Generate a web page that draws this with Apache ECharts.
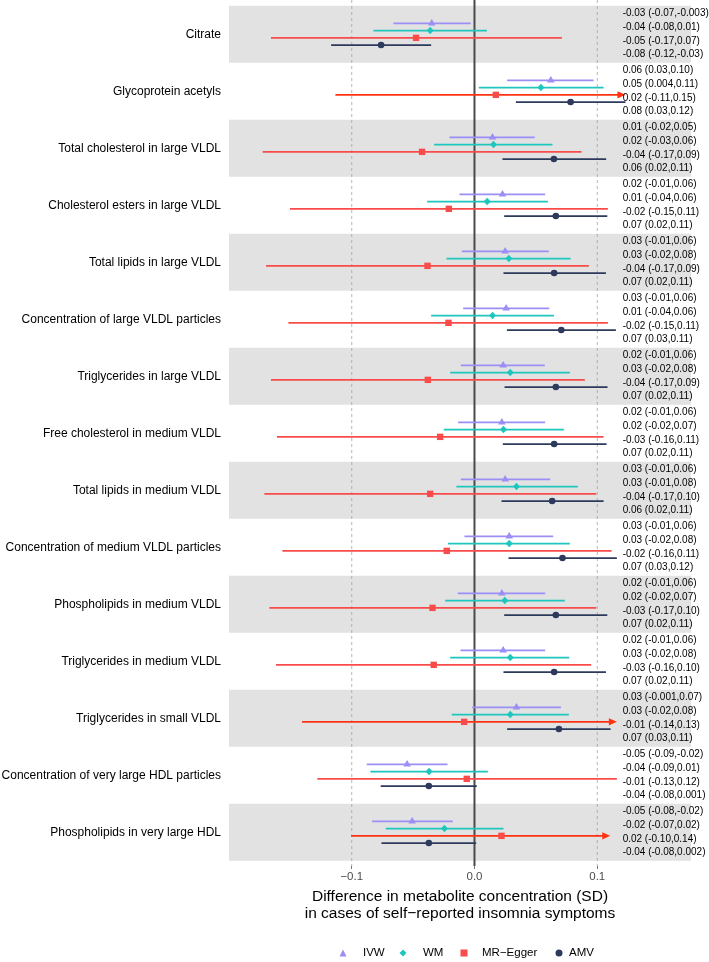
<!DOCTYPE html>
<html>
<head>
<meta charset="utf-8">
<script src="https://cdn.jsdelivr.net/npm/echarts@6/dist/echarts.min.js"></script>
<style>
html, body { margin: 0; padding: 0; background: #ffffff; }
#chart { width: 709px; height: 962px; }
</style>
</head>
<body>
<div id="chart"></div>
<script>
// ---------------- DATA ----------------
const categories = [
  'Citrate',
  'Glycoprotein acetyls',
  'Total cholesterol in large VLDL',
  'Cholesterol esters in large VLDL',
  'Total lipids in large VLDL',
  'Concentration of large VLDL particles',
  'Triglycerides in large VLDL',
  'Free cholesterol in medium VLDL',
  'Total lipids in medium VLDL',
  'Concentration of medium VLDL particles',
  'Phospholipids in medium VLDL',
  'Triglycerides in medium VLDL',
  'Triglycerides in small VLDL',
  'Concentration of very large HDL particles',
  'Phospholipids in very large HDL'
];

const methodNames = ['IVW', 'WM', 'MR\u2212Egger', 'AMV'];

const ivwEst = [-0.0348, 0.0622, 0.0147, 0.0228, 0.0250, 0.0258, 0.0234, 0.0223, 0.0250, 0.0283, 0.0223, 0.0234, 0.0342, -0.0549, -0.0508];
const ivwLo  = [-0.0660, 0.0266, -0.0204, -0.0122, -0.0103, -0.0092, -0.0111, -0.0133, -0.0111, -0.0082, -0.0136, -0.0114, -0.0019, -0.0878, -0.0834];
const ivwHi  = [-0.0030, 0.0970, 0.0492, 0.0576, 0.0606, 0.0609, 0.0573, 0.0576, 0.0617, 0.0641, 0.0576, 0.0576, 0.0704, -0.0220, -0.0177];

const wmEst = [-0.0361, 0.0541, 0.0155, 0.0103, 0.0280, 0.0147, 0.0291, 0.0236, 0.0342, 0.0283, 0.0247, 0.0291, 0.0291, -0.0370, -0.0245];
const wmLo  = [-0.0823, 0.0035, -0.0329, -0.0386, -0.0228, -0.0353, -0.0198, -0.0250, -0.0147, -0.0215, -0.0239, -0.0198, -0.0185, -0.0848, -0.0723];
const wmHi  = [0.0101, 0.1052, 0.0636, 0.0598, 0.0783, 0.0647, 0.0777, 0.0728, 0.0842, 0.0777, 0.0736, 0.0772, 0.0769, 0.0109, 0.0236];

const eggerEst = [-0.0476, 0.0174, -0.0427, -0.0209, -0.0383, -0.0212, -0.0380, -0.0280, -0.0361, -0.0226, -0.0342, -0.0332, -0.0084, -0.0063, 0.0220];
const eggerLo  = [-0.1658, -0.1133, -0.1726, -0.1503, -0.1698, -0.1516, -0.1658, -0.1609, -0.1712, -0.1565, -0.1671, -0.1617, -0.1405, -0.1280, -0.1005];
const eggerHi  = [0.0712, 0.1230, 0.0872, 0.1087, 0.0932, 0.1087, 0.0899, 0.1052, 0.0992, 0.1117, 0.0992, 0.0951, 0.1160, 0.1160, 0.1106];
const eggerTruncated = [0, 1, 0, 0, 0, 0, 0, 0, 0, 0, 0, 0, 1, 0, 1];

const amvEst = [-0.0761, 0.0783, 0.0647, 0.0663, 0.0649, 0.0707, 0.0663, 0.0649, 0.0633, 0.0717, 0.0663, 0.0649, 0.0688, -0.0372, -0.0372];
const amvLo  = [-0.1168, 0.0337, 0.0228, 0.0242, 0.0236, 0.0264, 0.0245, 0.0231, 0.0220, 0.0277, 0.0242, 0.0236, 0.0266, -0.0764, -0.0758];
const amvHi  = [-0.0353, 0.1230, 0.1073, 0.1082, 0.1071, 0.1152, 0.1084, 0.1076, 0.1052, 0.1160, 0.1082, 0.1071, 0.1109, 0.0019, 0.0014];

const ivwLabels = ['-0.03 (-0.07,-0.003)', '0.06 (0.03,0.10)', '0.01 (-0.02,0.05)', '0.02 (-0.01,0.06)', '0.03 (-0.01,0.06)', '0.03 (-0.01,0.06)', '0.02 (-0.01,0.06)', '0.02 (-0.01,0.06)', '0.03 (-0.01,0.06)', '0.03 (-0.01,0.06)', '0.02 (-0.01,0.06)', '0.02 (-0.01,0.06)', '0.03 (-0.001,0.07)', '-0.05 (-0.09,-0.02)', '-0.05 (-0.08,-0.02)'];
const wmLabels = ['-0.04 (-0.08,0.01)', '0.05 (0.004,0.11)', '0.02 (-0.03,0.06)', '0.01 (-0.04,0.06)', '0.03 (-0.02,0.08)', '0.01 (-0.04,0.06)', '0.03 (-0.02,0.08)', '0.02 (-0.02,0.07)', '0.03 (-0.01,0.08)', '0.03 (-0.02,0.08)', '0.02 (-0.02,0.07)', '0.03 (-0.02,0.08)', '0.03 (-0.02,0.08)', '-0.04 (-0.09,0.01)', '-0.02 (-0.07,0.02)'];
const eggerLabels = ['-0.05 (-0.17,0.07)', '0.02 (-0.11,0.15)', '-0.04 (-0.17,0.09)', '-0.02 (-0.15,0.11)', '-0.04 (-0.17,0.09)', '-0.02 (-0.15,0.11)', '-0.04 (-0.17,0.09)', '-0.03 (-0.16,0.11)', '-0.04 (-0.17,0.10)', '-0.02 (-0.16,0.11)', '-0.03 (-0.17,0.10)', '-0.03 (-0.16,0.10)', '-0.01 (-0.14,0.13)', '-0.01 (-0.13,0.12)', '0.02 (-0.10,0.14)'];
const amvLabels = ['-0.08 (-0.12,-0.03)', '0.08 (0.03,0.12)', '0.06 (0.02,0.11)', '0.07 (0.02,0.11)', '0.07 (0.02,0.11)', '0.07 (0.03,0.11)', '0.07 (0.02,0.11)', '0.07 (0.02,0.11)', '0.06 (0.02,0.11)', '0.07 (0.03,0.12)', '0.07 (0.02,0.11)', '0.07 (0.02,0.11)', '0.07 (0.03,0.11)', '-0.04 (-0.08,0.001)', '-0.04 (-0.08,0.002)'];

const tickValues = [-0.1, 0, 0.1];
const tickLabels = ['\u22120.1', '0.0', '0.1'];
const axisTitle = 'Difference in metabolite concentration (SD)\nin cases of self\u2212reported insomnia symptoms';

// ---------------- STYLE / LAYOUT ----------------
const FONT = '"Liberation Sans", Arial, Helvetica, sans-serif';
const COLORS = ['#9b8ef5', '#1fc6bd', '#fa4b4b', '#2e3a5c'];
const ARROW_COLOR = '#ff3311';
const SHAPES = ['triangle', 'diamond', 'square', 'circle'];
const LEGEND_ICONS = ['triangle', 'diamond', 'rect', 'circle'];
const LEGEND_ICON_CX = [343, 403, 464, 559];      // legend icon centres (px)
const LEGEND_TEXT_X = [363, 423, 482, 569];       // legend text starts (px)
const MARK_OFF = [-0.19, -0.064, 0.064, 0.19];   // fraction of band height
const TEXT_OFF = [-0.36, -0.12, 0.12, 0.36];
const LABEL_X = 0.1207;                            // x position of the text column (axis units)
const X_MIN = -0.2, X_MAX = 0.1764;
const PAD_TOP = 5.7, PAD_BOTTOM = 5.3;

const methods = [
  { est: ivwEst, lo: ivwLo, hi: ivwHi, trunc: null, labels: ivwLabels },
  { est: wmEst, lo: wmLo, hi: wmHi, trunc: null, labels: wmLabels },
  { est: eggerEst, lo: eggerLo, hi: eggerHi, trunc: eggerTruncated, labels: eggerLabels },
  { est: amvEst, lo: amvLo, hi: amvHi, trunc: null, labels: amvLabels }
];

function markerShape(shape, x, y, color) {
  if (shape === 'triangle') {
    return { type: 'polygon', shape: { points: [[x, y - 4.4], [x - 3.8, y + 2.2], [x + 3.8, y + 2.2]] }, style: { fill: color } };
  }
  if (shape === 'diamond') {
    return { type: 'polygon', shape: { points: [[x, y - 3.8], [x + 3.5, y], [x, y + 3.8], [x - 3.5, y]] }, style: { fill: color } };
  }
  if (shape === 'square') {
    return { type: 'rect', shape: { x: x - 3.2, y: y - 3.2, width: 6.4, height: 6.4 }, style: { fill: color } };
  }
  return { type: 'circle', shape: { cx: x, cy: y, r: 3.3 }, style: { fill: color } };
}

function methodSeries(m) {
  const M = methods[m];
  const color = COLORS[m];
  return {
    type: 'custom',
    name: methodNames[m],
    z: 3,
    clip: false,
    silent: true,
    itemStyle: { color: color },
    encode: { x: [1, 2, 3], y: 0 },
    data: M.est.map((e, i) => [i, e, M.lo[i], M.hi[i], M.trunc ? M.trunc[i] : 0]),
    renderItem: function (params, api) {
      const i = api.value(0);
      const band = api.size([0, 1])[1];
      const yc = api.coord([0, i])[1];
      const y = yc + MARK_OFF[m] * band;
      const xe = api.coord([api.value(1), i])[0];
      const xl = api.coord([api.value(2), i])[0];
      const xh = api.coord([api.value(3), i])[0];
      const trunc = api.value(4) === 1;
      const children = [];
      if (trunc) {
        children.push({ type: 'line', shape: { x1: xl, y1: y, x2: xh - 6, y2: y }, style: { stroke: ARROW_COLOR, lineWidth: 1.8 } });
        children.push({ type: 'polygon', shape: { points: [[xh, y], [xh - 8, y - 3.6], [xh - 8, y + 3.6]] }, style: { fill: ARROW_COLOR } });
      } else {
        children.push({ type: 'line', shape: { x1: xl, y1: y, x2: xh, y2: y }, style: { stroke: color, lineWidth: 1.8 } });
      }
      children.push(markerShape(SHAPES[m], xe, y, color));
      const tx = api.coord([LABEL_X, i])[0];
      children.push({
        type: 'text', x: tx, y: yc + TEXT_OFF[m] * band,
        style: { text: M.labels[params.dataIndex], fontSize: 10, fontFamily: FONT, fill: '#000000', align: 'left', verticalAlign: 'middle' }
      });
      return { type: 'group', children: children };
    }
  };
}

const bandSeries = {
  type: 'custom',
  name: 'bands',
  z: 0,
  silent: true,
  clip: false,
  encode: { x: 1, y: 0 },
  data: categories.map((c, i) => [i, 0]).filter(d => d[0] % 2 === 0),
  renderItem: function (params, api) {
    const i = api.value(0);
    const band = api.size([0, 1])[1];
    const yc = api.coord([0, i])[1];
    const cs = params.coordSys;
    return { type: 'rect', shape: { x: cs.x, y: yc - band / 2, width: cs.width, height: band }, style: { fill: '#e2e2e2' } };
  }
};

const refLineSeries = {
  type: 'custom',
  name: 'reflines',
  z: 1,
  silent: true,
  clip: false,
  encode: { x: 0, y: 1 },
  data: tickValues.map(v => [v, 0]),
  renderItem: function (params, api) {
    const v = api.value(0);
    const x = api.coord([v, 0])[0];
    const cs = params.coordSys;
    const isZero = Math.abs(v) < 1e-9;
    return {
      type: 'line',
      shape: { x1: x, y1: cs.y - PAD_TOP, x2: x, y2: cs.y + cs.height + PAD_BOTTOM },
      style: isZero ? { stroke: '#4a4a4a', lineWidth: 2 } : { stroke: '#a3a3a3', lineWidth: 0.8, lineDash: [3, 3] }
    };
  }
};

const legends = methodNames.map((n, k) => ({
  data: [{ name: n, icon: LEGEND_ICONS[k] }],
  left: LEGEND_ICON_CX[k] - 3.5,
  top: 947,
  padding: 0,
  orient: 'horizontal',
  itemWidth: 7,
  itemHeight: 7,
  itemGap: 0,
  selectedMode: false,
  textStyle: {
    fontSize: 11.5, color: '#000000', fontFamily: FONT,
    padding: [0, 0, 0, Math.max(0, LEGEND_TEXT_X[k] - (LEGEND_ICON_CX[k] + 3.5) - 5)]
  }
}));

const chart = echarts.init(document.getElementById('chart'), null, { renderer: 'canvas' });

chart.setOption({
  animation: false,
  backgroundColor: '#ffffff',
  textStyle: { fontFamily: FONT },
  grid: { left: 229, top: PAD_TOP, width: 462, height: 855, containLabel: false, outerBoundsMode: 'none' },
  xAxis: {
    type: 'value',
    min: X_MIN,
    max: X_MAX,
    offset: PAD_BOTTOM,
    axisLine: { show: false },
    splitLine: { show: false },
    axisTick: { show: true, length: 3, customValues: tickValues, lineStyle: { color: '#555555', width: 0.8 } },
    axisLabel: {
      customValues: tickValues,
      margin: 5,
      fontSize: 11.5,
      color: '#4d4d4d',
      fontFamily: FONT,
      formatter: function (v) {
        for (let k = 0; k < tickValues.length; k++) {
          if (Math.abs(v - tickValues[k]) < 1e-9) return tickLabels[k];
        }
        return '';
      }
    },
    name: axisTitle,
    nameLocation: 'middle',
    nameGap: 20.5,
    nameTextStyle: { fontSize: 15.5, lineHeight: 17.5, color: '#000000', fontFamily: FONT, align: 'center' }
  },
  yAxis: {
    type: 'category',
    data: categories,
    inverse: true,
    axisLine: { show: false },
    axisTick: { show: false },
    splitLine: { show: false },
    axisLabel: { fontSize: 12, color: '#000000', margin: 8, fontFamily: FONT }
  },
  legend: legends,
  series: [bandSeries, refLineSeries, methodSeries(0), methodSeries(1), methodSeries(2), methodSeries(3)]
});
</script>
</body>
</html>
